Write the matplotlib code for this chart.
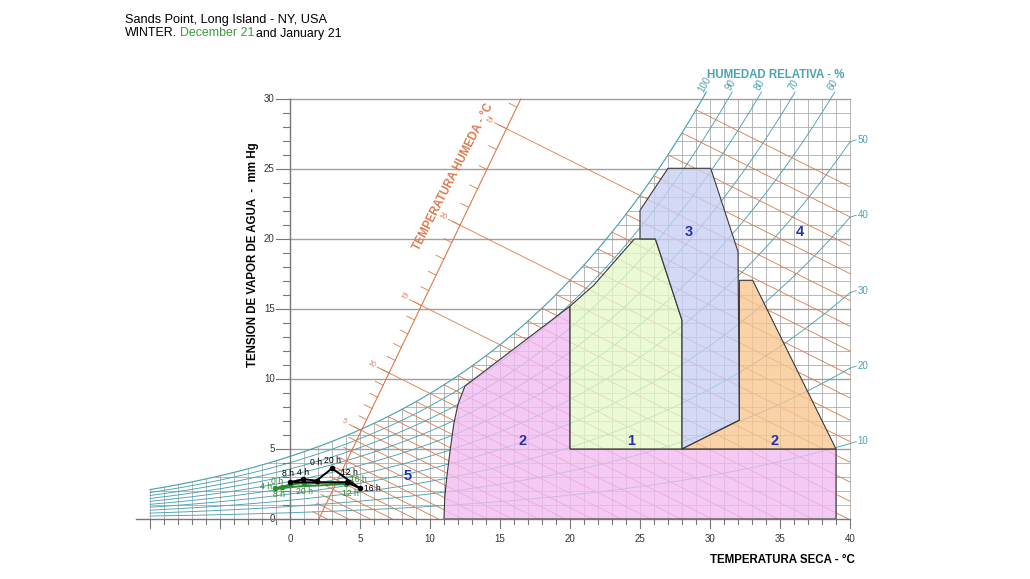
import numpy as np
import matplotlib.pyplot as plt
from matplotlib.patches import Polygon

plt.rcParams['font.family'] = ['Liberation Sans', 'DejaVu Sans']

# hourly points, dry bulb (C) and vapour pressure (mm Hg)
hours = ['0 h', '4 h', '8 h', '12 h', '16 h', '20 h']
dec_temp = [1.9, 0.95, 0.0, 4.05, 5.0, 3.0]
dec_vap = [2.74, 2.84, 2.62, 2.62, 2.19, 3.62]
jan_temp = [0.0, -1.05, -0.6, 4.0, 4.3, 1.0]
jan_vap = [2.45, 2.19, 2.26, 2.5, 2.62, 2.58]

rh_levels = [10, 20, 30, 40, 50, 60, 70, 80, 90, 100]
wb_temps = list(range(-4, 30))
wb_major = [5, 10, 15, 20, 25]
x_ticks = list(range(-10, 41))
y_ticks = list(range(0, 31))

# bioclimatic zones (dry bulb, vapour pressure)
pink_T = [11, 11.05, 11.2, 11.45, 11.7, 12.0, 12.5, 20, 20, 39, 39]
pink_e = [0, 1.5, 3, 5, 6.8, 8.2, 9.5, 15.2, 5, 5, 0]
green_T = [20, 20, 21.7, 23.1, 24.6, 26.1, 28, 28]
green_e = [5, 15.2, 16.7, 18.3, 20, 20, 14.2, 5]
blue_T = [25, 25, 27, 30.05, 32, 32.1, 28, 28, 26.1]
blue_e = [20, 22.05, 25.05, 25.05, 19.1, 7.07, 5, 14.2, 20]
orange_T = [28, 32.1, 32.1, 33.05, 39]
orange_e = [5, 7.05, 17.05, 17.05, 5]
zone_names = ['1', '2', '2', '3', '4', '5']
zone_T = [24.4, 16.6, 34.6, 28.5, 36.4, 8.4]
zone_e = [5.6, 5.6, 5.6, 20.5, 20.5, 3.1]

TEAL = '#4aa2b3'
ORANGE = '#d97a4c'
GRID = '#acacac'


def sat(t):
    return 0.975 * 4.5844 * np.exp(17.62 * t / (243.12 + t))


def dsat(t):
    return sat(t) * 17.62 * 243.12 / (243.12 + t) ** 2


def sat_inv(e):
    a = np.log(e / (0.975 * 4.5844))
    return 243.12 * a / (17.62 - a)


fig = plt.figure(figsize=(10.30, 5.79), dpi=100)
ax = fig.add_axes([0, 0, 1, 1])
ax.set_xlim(-290 / 14, 740 / 14)
ax.set_ylim(-60 / 14, 519 / 14)
ax.axis('off')

# fine grid under the saturation curve
for t in x_ticks:
    ax.plot([t, t], [0, min(sat(t), 30)], color=GRID, lw=0.6, zorder=1)
for e in range(1, 30):
    if e % 5 == 0:
        continue
    ax.plot([max(sat_inv(e), -10), 40], [e, e], color=GRID, lw=0.6, zorder=1)
for e in range(5, 31, 5):
    ax.plot([0, 40], [e, e], color='#a0a0a0', lw=1.0, zorder=1)

# relative humidity curves
for rh in rh_levels:
    f = rh / 100
    t_end = min(40, sat_inv(30.5 / f))
    tt = np.linspace(-10, t_end, 300)
    ax.plot(tt, f * sat(tt), color=TEAL, lw=0.65 if rh < 100 else 0.85, zorder=2)
    if rh <= 50:
        e40 = f * sat(40)
        ax.plot([40, 40.45], [e40, e40 + 0.15], color=TEAL, lw=0.6, zorder=2)
        ax.text(40.55, e40 + 0.15, str(rh), color=TEAL, fontsize=7,
                ha='left', va='center')
    else:
        tl = sat_inv(30.8 / f) - 0.3
        ang = np.degrees(np.arctan(f * dsat(tl)))
        ax.text(tl, 31.0, str(rh), color=TEAL, fontsize=7, rotation=ang,
                ha='center', va='center', rotation_mode='anchor')
ax.text(34.7, 31.7, 'HUMEDAD RELATIVA - %', color=TEAL, fontsize=8.3,
        fontweight='bold', ha='center', va='center')

# wet bulb lines and their scale
k, t0 = 2.08, 2.06
ax.plot([t0, t0 + 30 / k], [0, 30], color=ORANGE, lw=0.8, zorder=2)
for tw in wb_temps:
    ew = sat(tw)
    ts = (ew + 0.5 * tw + k * t0) / (k + 0.5)
    es = k * (ts - t0)
    t_start = ts - 0.85 if tw in wb_major else max(tw, ts)
    t_end = min(40, tw + ew / 0.5)
    ax.plot([t_start, t_end], [ew - 0.5 * (t_start - tw), ew - 0.5 * (t_end - tw)],
            color=ORANGE, lw=0.6, zorder=2)
    if 0 <= es <= 30:
        ax.plot([ts - 0.55, ts], [es + 0.275, es], color=ORANGE, lw=0.6, zorder=2)
        if tw in wb_major:
            ax.text(ts - 1.25, es + 0.62, str(tw), color=ORANGE, fontsize=5,
                    rotation=-26.6, ha='center', va='center')
ax.text(11.65, 24.4, 'TEMPERATURA HUMEDA - °C', color=ORANGE, fontsize=8.3,
        fontweight='bold', rotation=63, ha='center', va='center')

# zones
for zt, ze, col in [(pink_T, pink_e, '#f2bcf2'), (green_T, green_e, '#e6f8c8'),
                    (blue_T, blue_e, '#c8d0f4'), (orange_T, orange_e, '#f8c690')]:
    ax.add_patch(Polygon(np.column_stack([zt, ze]), closed=True, facecolor=col,
                         alpha=0.78, edgecolor='none', zorder=3))
    ax.add_patch(Polygon(np.column_stack([zt, ze]), closed=True, fill=False,
                         edgecolor='#3a3a3a', lw=0.8, zorder=3))
for name, zt, ze in zip(zone_names, zone_T, zone_e):
    ax.text(zt, ze, name, color='#2233b0', fontsize=10.5, fontweight='bold',
            ha='center', va='center', zorder=6)

# axes
ax.plot([-11, 40], [0, 0], color='#777777', lw=1.0, zorder=4)
ax.plot([0, 0], [0, 30], color='#777777', lw=1.0, zorder=4)
for t in x_ticks:
    ln = 0.65 if t % 5 == 0 else 0.38
    ax.plot([t, t], [0, -ln], color='#777777', lw=0.8, zorder=4)
    if t >= 0 and t % 5 == 0:
        ax.text(t, -1.45, str(t), fontsize=7, color='#333333',
                ha='center', va='center')
for e in y_ticks:
    ln = 1.0 if e % 5 == 0 else 0.5
    ax.plot([0, -ln], [e, e], color='#777777', lw=0.8, zorder=4)
    if e % 5 == 0:
        ax.text(-1.1, e, str(e), fontsize=7, color='#333333',
                ha='right', va='center')
ax.text(-2.62, 18.9, 'TENSION DE VAPOR DE AGUA  -  mm Hg', fontsize=8.3,
        fontweight='bold', rotation=90, ha='center', va='center')
ax.text(35.2, -2.93, 'TEMPERATURA SECA - °C', fontsize=8.3, fontweight='bold',
        ha='center', va='center')

# daily cycles
dec_off = [(-1, 18), (0, 7), (-2, 9), (3, 10), (12, 0), (1, 8)]
jan_off = [(-13, 3), (-9, 2), (-3, -7), (4, -9), (8, 3), (1, -9)]
for xs, ys, col, offs in [(jan_temp, jan_vap, '#2e8b2e', jan_off),
                          (dec_temp, dec_vap, 'black', dec_off)]:
    ax.plot(xs + xs[:1], ys + ys[:1], color=col, lw=1.4, marker='o', ms=3,
            zorder=5)
    for h, x, y, o in zip(hours, xs, ys, offs):
        ax.annotate(h, (x, y), xytext=o, textcoords='offset pixels', fontsize=6.2,
                    color=col, ha='center', va='center', zorder=6)

# titles
fig.text(125 / 1030, 1 - 20.5 / 579, 'Sands Point, Long Island - NY, USA',
         fontsize=9.2, va='center', ha='left')
r = fig.canvas.get_renderer()
x = 125
for part, col, gap in [('WINTER.', 'black', 3), ('December 21', '#3d9a3d', 2),
                       ('and January 21', 'black', 0)]:
    t = fig.text(x / 1030, 1 - 33.5 / 579, part, fontsize=8.9, color=col,
                 va='center', ha='left')
    x = t.get_window_extent(r).x1 + gap

fig.savefig('out.png', dpi=100)
